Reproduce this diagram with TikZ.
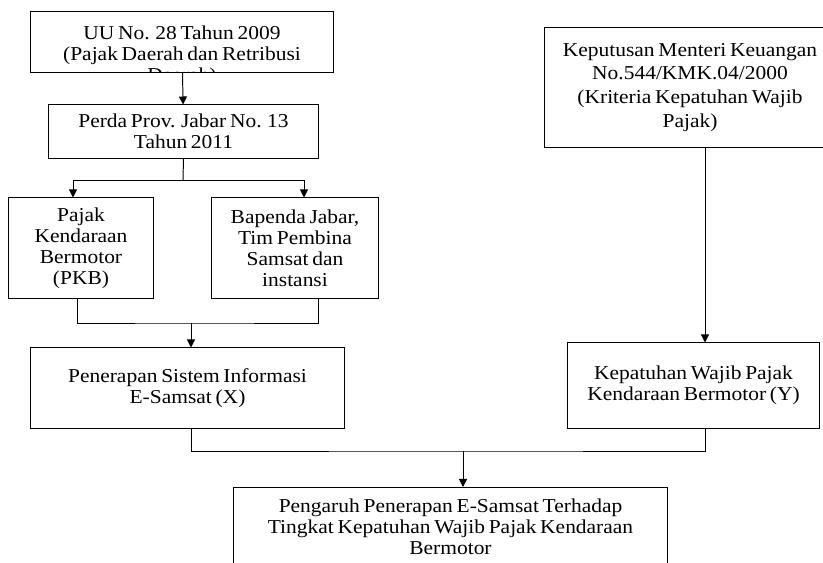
\documentclass[tikz,border=0pt]{standalone}
\usepackage{fontspec}
\setmainfont{Liberation Serif}[FakeStretch=1.09, WordSpace=0.7]
\usetikzlibrary{arrows.meta,calc}

\begin{document}
\begin{tikzpicture}[x=0.025cm, y=-0.025cm, ->, >={Triangle[length=2mm,width=2mm]}, line width=0.7pt,
    box/.style={rectangle, draw, align=center, inner sep=2pt}]
            \tikzstyle{every node}=[font=\fontsize{14}{15}\selectfont]
            \useasboundingbox (0,0) rectangle (823,563);

              % left column
              \node[box, minimum width=7.55cm, minimum height=1.5cm,
                    path picture={\node[anchor=north, align=center, inner sep=2pt] at ([yshift=-0.27cm]path picture bounding box.north)
                      {UU No. 28 Tahun 2009\\(Pajak Daerah dan Retribusi\\Daerah)};}] (uu) at (182,42) {};
              \node[box, minimum width=6.725cm, minimum height=1.325cm] (perda) at (183.5,131.5) {Perda Prov. Jabar No. 13\\Tahun 2011};
              \node[box, minimum width=3.6cm, minimum height=2.5cm] (pkb) at (81,248) {Pajak\\Kendaraan\\Bermotor\\(PKB)};
              \node[box, minimum width=4.15cm, minimum height=2.5cm] (bapenda) at (295,248) {Bapenda Jabar,\\Tim Pembina\\Samsat dan\\instansi};
              \node[box, minimum width=7.825cm, minimum height=2cm] (penerapan) at (187.5,388) {Penerapan Sistem Informasi\\E-Samsat (X)};

              % right column
              \node[box, minimum width=7.25cm, minimum height=2.975cm, font=\fontsize{14}{17}\selectfont] (kmk) at (690,87.5) {Keputusan Menteri Keuangan\\No.544/KMK.04/2000\\(Kriteria Kepatuhan Wajib\\Pajak)};
              \node[box, minimum width=6.275cm, minimum height=2.125cm] (kepatuhan) at (693.5,385.5) {Kepatuhan Wajib Pajak\\Kendaraan Bermotor (Y)};

              % result
              \node[box, minimum width=10.825cm, inner ysep=8pt, anchor=north] (pengaruh) at (450.5,487) {Pengaruh Penerapan E-Samsat Terhadap\\Tingkat Kepatuhan Wajib Pajak Kendaraan\\Bermotor\\[0.8cm]};

              \coordinate (split) at (183,180);
              \coordinate (join1) at (191,323);
              \coordinate (join2) at (463,451);
              \coordinate (kx) at (705,0);

              \draw (uu) -- (perda);
              \draw[-] (perda.south) -- (split);
              \draw (split) -| ([xshift=-0.2cm]pkb.north);
              \draw (split) -| ([xshift=0.225cm]bapenda.north);
              \draw[-] ([xshift=-0.1cm]pkb.south) |- (join1) -| ([xshift=0.575cm]bapenda.south);
              \draw (join1) -- (join1 |- penerapan.north);
              \draw (kmk.south -| kx) -- (kx |- kepatuhan.north);
              \draw[-] (penerapan.south -| join1) |- (join2) -| (kx |- kepatuhan.south);
              \draw (join2) -- (join2 |- pengaruh.north);

\end{tikzpicture}
\end{document}
